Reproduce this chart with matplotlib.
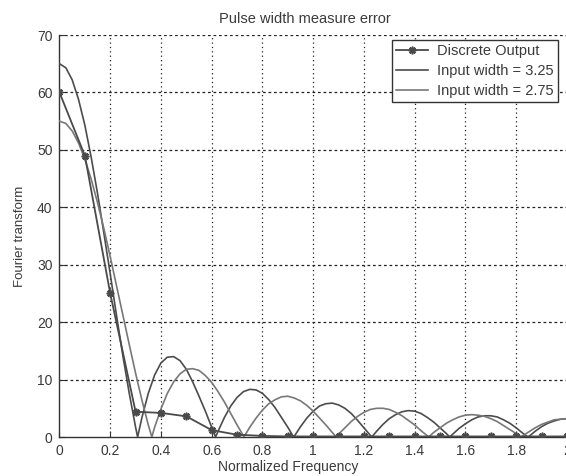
import numpy as np
import matplotlib.pyplot as plt

plt.rcParams['font.family'] = ['Liberation Sans', 'DejaVu Sans']

# discrete output, one sample every 0.1
f_disc = [0.0, 0.1, 0.2, 0.3, 0.4, 0.5, 0.6, 0.7, 0.8, 0.9, 1.0,
          1.1, 1.2, 1.3, 1.4, 1.5, 1.6, 1.7, 1.8, 1.9, 2.0]
y_disc = [60, 49, 25, 4.4, 4.2, 3.6, 1.2, 0.4, 0.2, 0.1, 0.1,
          0.1, 0.1, 0.1, 0.1, 0.1, 0.1, 0.1, 0.1, 0.1, 0.1]

# continuous spectra, sampled every 0.025
f_cont = np.round(np.arange(0, 2.0001, 0.025), 3)
y_325 = [65, 64.3, 62.2, 58.8, 54.3, 48.7, 42.4, 35.5, 28.4, 21.1,
         14.1, 7.6, 1.7, 3.4, 7.6, 10.8, 12.9, 13.9, 14.0, 13.3,
         11.8, 9.6, 7.1, 4.5, 1.7, 1.0, 3.4, 5.4, 6.9, 7.9,
         8.3, 8.2, 7.6, 6.5, 5.1, 3.4, 1.7, 0.1, 1.8, 3.3,
         4.5, 5.4, 5.8, 5.9, 5.6, 5.0, 4.1, 2.9, 1.6, 0.3,
         1.0, 2.2, 3.2, 3.9, 4.4, 4.6, 4.5, 4.1, 3.4, 2.6,
         1.6, 0.6, 0.5, 1.5, 2.3, 3.0, 3.5, 3.7, 3.7, 3.5,
         3.0, 2.4, 1.6, 0.7, 0.1, 1.0, 1.8, 2.4, 2.8, 3.1, 3.2]
y_275 = [55, 54.6, 53.3, 51.2, 48.4, 44.9, 40.8, 36.3, 31.4, 26.3,
         21.2, 16.1, 11.1, 6.4, 2.1, 1.7, 4.9, 7.6, 9.6, 11.0,
         11.8, 11.9, 11.6, 10.7, 9.5, 7.9, 6.1, 4.1, 2.1, 0.2,
         1.7, 3.3, 4.7, 5.8, 6.5, 7.0, 7.1, 6.8, 6.3, 5.5,
         4.5, 3.3, 2.1, 0.8, 0.5, 1.6, 2.7, 3.6, 4.3, 4.8,
         5.0, 5.0, 4.8, 4.3, 3.7, 2.9, 2.1, 1.1, 0.2, 0.8,
         1.6, 2.4, 3.0, 3.5, 3.8, 3.9, 3.8, 3.6, 3.2, 2.7,
         2.0, 1.3, 0.6, 0.2, 0.9, 1.6, 2.2, 2.6, 3.0, 3.1, 3.2]

# nulls of each curve
zeros_325 = [0.308, 0.615, 0.923, 1.231, 1.538, 1.846]
zeros_275 = [0.364, 0.727, 1.091, 1.455, 1.818]


def with_nulls(f, y, nulls):
    x = np.concatenate([f, nulls])
    v = np.concatenate([y, np.zeros(len(nulls))])
    idx = np.argsort(x)
    return x[idx], v[idx]


x325, v325 = with_nulls(f_cont, y_325, zeros_325)
x275, v275 = with_nulls(f_cont, y_275, zeros_275)

txt = '#3a3a3a'
fig = plt.figure(figsize=(5.66, 4.76), dpi=100)
ax = fig.add_axes([0.1051, 0.0819, 0.8965, 0.8445])

ax.plot(f_disc, y_disc, color='#4a4a4a', lw=1.3, marker=(8, 2, 0), ms=5.5, mew=1.2,
        label='Discrete Output', zorder=4)
ax.plot(x325, v325, color='#4c4c4c', lw=1.2, label='Input width = 3.25', zorder=3)
ax.plot(x275, v275, color='#787878', lw=1.2, label='Input width = 2.75', zorder=3)

ax.set_xlim(0, 2)
ax.set_ylim(0, 70)
ax.set_xticks(np.arange(0, 2.01, 0.2))
ax.set_xticklabels(['0', '0.2', '0.4', '0.6', '0.8', '1', '1.2', '1.4', '1.6', '1.8', '2'])
ax.set_yticks(range(0, 71, 10))

for t in ax.get_xticks()[1:-1]:
    ax.axvline(t, color='#222222', lw=0.9, ls=(0, (1, 2.5)), zorder=1)
for t in ax.get_yticks()[1:]:
    ax.axhline(t, color='#222222', lw=0.9, ls=(0, (2.2, 2.2)), zorder=1)

for s in ['top', 'right']:
    ax.spines[s].set_visible(False)
for s in ['left', 'bottom']:
    ax.spines[s].set_color('#333333')
    ax.spines[s].set_linewidth(1.0)

ax.tick_params(direction='in', length=4, colors='#333333', labelcolor=txt,
               labelsize=10, pad=5)

ax.set_title('Pulse width measure error', fontsize=10.5, color=txt, pad=9, x=0.484)
ax.set_xlabel('Normalized Frequency', fontsize=10, color=txt)
ax.xaxis.set_label_coords(0.451, -0.056)
ax.set_ylabel('Fourier transform', fontsize=9.5, color=txt, labelpad=8)

leg = ax.legend(loc='upper right', bbox_to_anchor=(0.982, 0.988), borderaxespad=0,
                fancybox=False, framealpha=1, edgecolor='#333333', fontsize=10.5,
                handlelength=2.2, handletextpad=0.6, borderpad=0.3, labelspacing=0.4)
leg.get_frame().set_linewidth(1.0)
for t in leg.get_texts():
    t.set_color(txt)

fig.savefig('out.png', dpi=100)
